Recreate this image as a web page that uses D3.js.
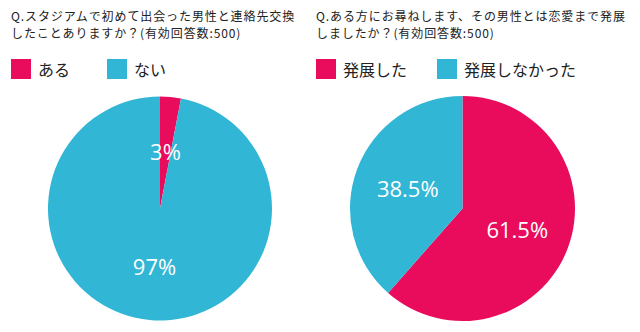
<!DOCTYPE html>
<html>
<head>
<meta charset="utf-8">
<script src="https://cdn.jsdelivr.net/npm/d3@7"></script>
<style>
  html, body { margin: 0; padding: 0; background: #fff; }
  svg { display: block; }
</style>
</head>
<body>
<svg id="chart" width="640" height="332"></svg>
<script>
// Survey answers (有効回答数:500)
const titles1 = ["Q.スタジアムで初めて出会った男性と連絡先交換", "したことありますか？(有効回答数:500)"];
const categories1 = ["ある", "ない"];
const values1 = [3, 97];
const labels1 = ["3%", "97%"];

const titles2 = ["Q.ある方にお尋ねします、その男性とは恋愛まで発展", "しましたか？(有効回答数:500)"];
const categories2 = ["発展した", "発展しなかった"];
const values2 = [61.5, 38.5];
const labels2 = ["61.5%", "38.5%"];

const colors = ["#e90c5c", "#31b6d5"];

const svg = d3.select("#chart");
const jpFont = "'Noto Sans CJK JP', 'Noto Sans', sans-serif";

function drawPanel(opts) {
  const g = svg.append("g");

  // Question text, two lines
  g.append("g").selectAll("text")
    .data(opts.titles)
    .join("text")
    .attr("x", opts.titleX)
    .attr("y", (d, i) => 20.5 + i * 17.6)
    .attr("font-family", jpFont)
    .attr("font-size", 12)
    .attr("letter-spacing", 0.9)
    .attr("fill", "#222")
    .text(d => d);

  // Legend
  const legend = g.append("g").selectAll("g")
    .data(opts.categories)
    .join("g")
    .attr("transform", (d, i) => `translate(${opts.legendX[i]},59)`);
  legend.append("rect")
    .attr("width", 20).attr("height", 20)
    .attr("fill", (d, i) => colors[i]);
  legend.append("text")
    .attr("x", 27).attr("y", 10)
    .attr("dominant-baseline", "central")
    .attr("font-family", jpFont)
    .attr("font-size", 16)
    .attr("fill", "#222")
    .text(d => d);

  // Pie
  const r = opts.r;
  const pie = d3.pie().sort(null).value(d => d);
  const arcs = pie(opts.values);
  const arc = d3.arc().innerRadius(0).outerRadius(r);
  const labelArc = d3.arc().innerRadius(0).outerRadius(r * 1.04);

  const pg = g.append("g").attr("transform", `translate(${opts.cx},${opts.cy})`);
  pg.selectAll("path")
    .data(arcs)
    .join("path")
    .attr("d", arc)
    .attr("fill", (d, i) => colors[i]);

  pg.selectAll("text")
    .data(arcs)
    .join("text")
    .attr("transform", d => `translate(${labelArc.centroid(d)})`)
    .attr("text-anchor", "middle")
    .attr("dominant-baseline", "central")
    .attr("font-family", "'Open Sans', sans-serif")
    .attr("font-size", 22)
    .attr("fill", "#fff")
    .text((d, i) => opts.labels[i]);
}

drawPanel({
  titles: titles1, categories: categories1, values: values1, labels: labels1,
  titleX: 11, legendX: [11, 107], cx: 160, cy: 208.5, r: 112
});
drawPanel({
  titles: titles2, categories: categories2, values: values2, labels: labels2,
  titleX: 316, legendX: [316, 437], cx: 462.5, cy: 208.5, r: 112.5
});
</script>
</body>
</html>
